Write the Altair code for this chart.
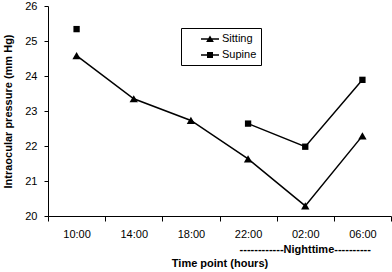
import altair as alt
import pandas as pd

times = ["10:00", "14:00", "18:00", "22:00", "02:00", "06:00"]
sitting = [24.58, 23.35, 22.73, 21.63, 20.29, 22.29]
supine = [25.34, None, None, 22.64, 21.98, 23.89]
series_names = ["Sitting", "Supine"]
y_ticks = [20, 21, 22, 23, 24, 25, 26]
night_label = "------------Nighttime----------"
night_at = "02:00"

rows = []
for name, vals in zip(series_names, [sitting, supine]):
    seg = 0
    for t, v in zip(times, vals):
        if v is None:
            seg += 1
            continue
        rows.append({"time": t, "series": name, "value": v, "seg": f"{name}-{seg}"})
df = pd.DataFrame(rows)
note_df = pd.DataFrame({"time": [night_at], "text": [night_label]})

FONT = "Liberation Sans"

x_enc = alt.X(
    "time:N",
    sort=times,
    scale=alt.Scale(type="band", domain=times, paddingInner=0, paddingOuter=0),
    axis=alt.Axis(
        title="Time point (hours)",
        labelAngle=0,
        tickBand="extent",
        tickSize=5,
        labelPadding=7,
        titlePadding=18,
    ),
)
y_enc = alt.Y(
    "value:Q",
    scale=alt.Scale(domain=[20, 26], nice=False, zero=False),
    axis=alt.Axis(
        title="Intraocular pressure (mm Hg)",
        values=y_ticks,
        format="d",
        grid=False,
        tickSize=4,
        labelPadding=7,
        titlePadding=11,
    ),
)

lines = alt.Chart(df).mark_line(color="black", strokeWidth=1.5).encode(
    x=x_enc, y=y_enc, detail="seg:N"
)

points = alt.Chart(df).mark_point(filled=True, color="black", opacity=1).encode(
    x=x_enc,
    y=y_enc,
    shape=alt.Shape(
        "series:N",
        scale=alt.Scale(domain=series_names, range=["triangle-up", "square"]),
        legend=None,
    ),
    size=alt.Size(
        "series:N",
        scale=alt.Scale(domain=series_names, range=[70, 40]),
        legend=None,
    ),
)

legend_paths = [
    "M-1.5,-0.125L1.5,-0.125L1.5,0.125L-1.5,0.125ZM0,-0.6L0.65,0.5L-0.65,0.5Z",
    "M-1.5,-0.125L1.5,-0.125L1.5,0.125L-1.5,0.125ZM-0.5,-0.5L0.5,-0.5L0.5,0.5L-0.5,0.5Z",
]
legend_layer = (
    alt.Chart(df)
    .transform_filter("false")
    .mark_point(filled=True, color="black", opacity=1)
    .encode(
        x=x_enc,
        y=y_enc,
        shape=alt.Shape(
            "series:N",
            scale=alt.Scale(domain=series_names, range=legend_paths),
            legend=alt.Legend(
                title=None,
                orient="none",
                legendX=133,
                legendY=22,
                strokeColor="black",
                fillColor="white",
                padding=4,
                symbolSize=144,
                symbolOffset=18,
                symbolFillColor="black",
                symbolOpacity=1,
                labelOffset=5,
                rowPadding=3,
                labelFontSize=11,
                labelFont=FONT,
                labelColor="black",
                labelExpr="datum.label + '      '",
            ),
        ),
    )
)

note = alt.Chart(note_df).mark_text(
    font=FONT, fontSize=11, fontWeight="bold", color="black"
).encode(
    x=alt.X("time:N", sort=times, scale=alt.Scale(type="band", domain=times)),
    y=alt.value(244),
    text="text:N",
)

chart = (
    alt.layer(lines, points, legend_layer, note)
    .resolve_scale(shape="independent")
    .properties(
        width=343,
        height=210,
        autosize=alt.AutoSizeParams(type="none"),
        padding={"left": 48, "top": 6, "right": 1, "bottom": 56},
        background="white",
    )
    .configure_view(stroke=None)
    .configure_axis(
        domainColor="black",
        tickColor="black",
        labelColor="black",
        titleColor="black",
        labelFont=FONT,
        titleFont=FONT,
        labelFontSize=11,
        titleFontSize=11,
        titleFontWeight="bold",
        domainWidth=1,
        tickWidth=1,
    )
)

chart.save("out.html", embed_options={"renderer": "svg", "actions": False})
